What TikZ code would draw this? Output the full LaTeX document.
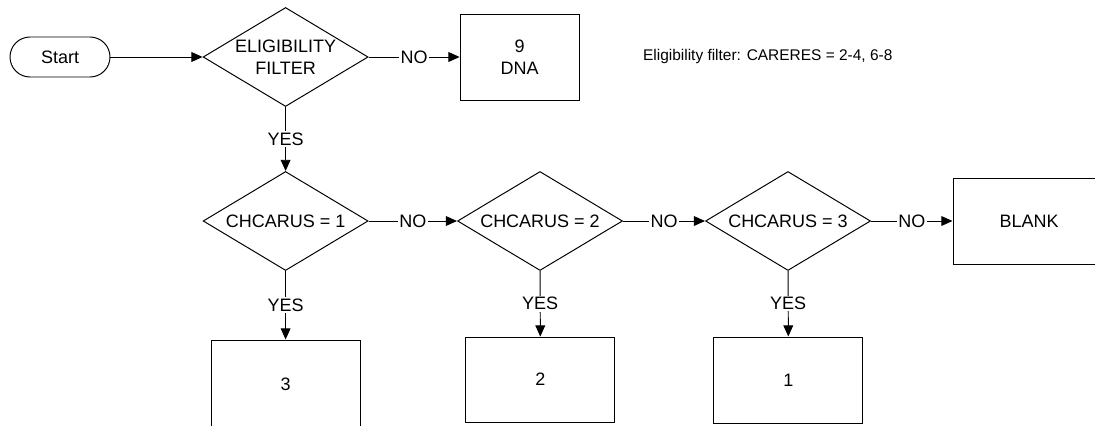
\documentclass[tikz,border=0pt]{standalone}
\usepackage{fontspec}
\setmainfont{Liberation Sans}
\usetikzlibrary{shapes.geometric,arrows.meta}

\definecolor{linecolor}{RGB}{0,0,0}

\tikzset{
  base/.style={draw=linecolor, line width=0.7pt, font=\fontsize{12.8}{16}\selectfont, align=center, inner sep=0pt},
  terminal/.style={base, rounded corners=0.5cm, minimum width=2.5cm, minimum height=1cm},
  decision/.style={base, diamond, shape aspect=1.65, minimum width=4.125cm, minimum height=2.475cm},
  outbox/.style={base, rectangle, minimum width=3.725cm, minimum height=2.125cm},
  flow/.style={draw=linecolor, line width=0.7pt, -{Triangle[length=8pt,width=7pt]}},
  lbl/.style={fill=white, inner sep=1pt, font=\fontsize{12.8}{16}\selectfont}
}

\begin{document}
\begin{tikzpicture}
  \useasboundingbox (0,0) rectangle (27.375,-10.625);
  \clip (0,0) rectangle (27.375,-10.625);

  % Top row: start and eligibility check
  \node[terminal] (start) at (1.5,-1.425) {Start};
  \node[decision] (elig) at (7.14,-1.425) {ELIGIBILITY\\FILTER};
  \node[outbox, minimum width=2.975cm, minimum height=2.15cm] (dna) at (12.99,-1.425) {9\\DNA};
  \node[font=\fontsize{11}{13}\selectfont, anchor=west, inner sep=0pt] (note) at (16.07,-1.425) {Eligibility filter: CARERES = 2-4, 6-8};

  % Second row: CHCARUS checks
  \node[decision] (chk1) at (7.14,-5.525) {CHCARUS = 1};
  \node[decision] (chk2) at (13.5,-5.525) {CHCARUS = 2};
  \node[decision] (chk3) at (19.7,-5.525) {CHCARUS = 3};
  \node[outbox, minimum width=3.8cm, minimum height=2.15cm] (blank) at (25.725,-5.525) {BLANK};

  % Bottom row: results
  \node[outbox, minimum height=2.2cm] (res3) at (7.14,-9.6) {3};
  \node[outbox] (res2) at (13.51,-9.49) {2};
  \node[outbox, minimum height=2.15cm] (res1) at (19.71,-9.5) {1};

  % Connectors
  \draw[flow] (start) -- (elig);
  \draw[flow] (elig) -- node[lbl] {NO} (dna);
  \draw[flow] (elig) -- node[lbl] {YES} (chk1);
  \draw[flow] (chk1) -- node[lbl] {NO} (chk2);
  \draw[flow] (chk2) -- node[lbl] {NO} (chk3);
  \draw[flow] (chk3) -- node[lbl] {NO} (blank);
  \draw[flow] (chk1) -- node[lbl] {YES} (res3);
  \draw[flow] (chk2) -- node[lbl] {YES} (res2);
  \draw[flow] (chk3) -- node[lbl] {YES} (res1);
\end{tikzpicture}
\end{document}
